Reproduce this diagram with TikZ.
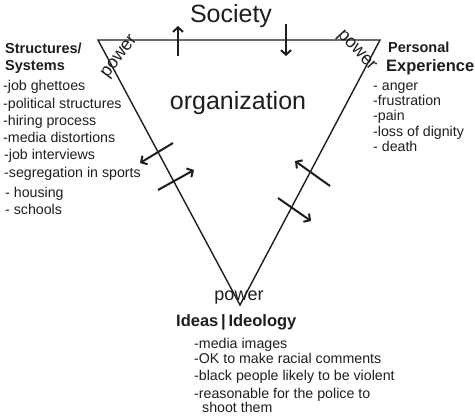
\documentclass[tikz,border=0pt]{standalone}
\usepackage{fontspec}
\setmainfont{Liberation Sans}
\usetikzlibrary{arrows.meta}
\definecolor{ink}{HTML}{1E1E1E}
\tikzset{
  edge/.style={draw=ink, line width=1.4pt},
  flow/.style={draw=ink, line width=2pt, -{Straight Barb[length=4.5pt,width=10pt,line width=2pt]}},
  big/.style={inner sep=0pt, text=ink, font=\fontsize{25}{28}\selectfont},
  pw/.style={inner sep=0pt, text=ink, font=\fontsize{18}{20}\selectfont},
  head/.style={inner sep=0pt, anchor=west, text=ink, font=\bfseries\fontsize{14.5}{16}\selectfont, text height=1.4ex, text depth=.25ex},
  item/.style={inner sep=0pt, anchor=west, text=ink, font=\fontsize{14.2}{15}\selectfont, text height=1.4ex, text depth=.25ex},
}
\begin{document}
\begin{tikzpicture}[x=1pt,y=-1pt]
\useasboundingbox (0,0) rectangle (475,416);
% triangle
\coordinate (tl) at (98,40);
\coordinate (tr) at (380,40);
\coordinate (bv) at (240,305);
\draw[edge, line join=miter] (tl) -- (tr) -- (bv) -- cycle;

% arrows
\coordinate (a1s) at (178,56); \coordinate (a1e) at (178,26);
\coordinate (a2s) at (286,24); \coordinate (a2e) at (286,56);
\coordinate (a3s) at (173,143); \coordinate (a3e) at (140,163);
\coordinate (a4s) at (158,190); \coordinate (a4e) at (194,170);
\coordinate (a5s) at (330,186); \coordinate (a5e) at (295,161);
\coordinate (a6s) at (278,198); \coordinate (a6e) at (311,221);
\draw[flow] (a1s) -- (a1e);
\draw[flow] (a2s) -- (a2e);
\draw[flow] (a3s) -- (a3e);
\draw[flow] (a4s) -- (a4e);
\draw[flow] (a5s) -- (a5e);
\draw[flow] (a6s) -- (a6e);

% big labels
\node[big] (soc) at (231,16) {Society};
\node[big] (org) at (238,103) {organization};

% power labels
\node[pw, rotate=53] (pw1) at (120,57) {power};
\node[pw, rotate=-47] (pw2) at (356,51) {power};
\node[pw] (pw3) at (239,298) {power};

% left
\node[head] (sh1) at (5,50) {Structures/};
\node[head] (sh2) at (5,67) {Systems};
\node[item] (l1) at (3,87) {-job ghettoes};
\node[item] (l2) at (3,105) {-political structures};
\node[item] (l3) at (3,122) {-hiring process};
\node[item] (l4) at (3,139) {-media distortions};
\node[item] (l5) at (4,156) {-job interviews};
\node[item] (l6) at (4,174) {-segregation in sports};
\node[item] (l7) at (5,194) {- housing};
\node[item] (l8) at (5,211) {- schools};

% right
\node[head] (ph1) at (388,49) {Personal};
\node[head, font=\bfseries\fontsize{16.5}{18}\selectfont] (ph2) at (386,68) {Experience};
\node[item] (r1) at (373,87) {- anger};
\node[item] (r2) at (373,102) {-frustration};
\node[item] (r3) at (373,117) {-pain};
\node[item] (r4) at (373,133) {-loss of dignity};
\node[item] (r5) at (373,148) {- death};

% bottom
\node[head, font=\bfseries\fontsize{16.5}{18}\selectfont] (ih) at (176,323) {Ideas\,|\,Ideology};
\node[item] (b1) at (194,345) {-media images};
\node[item] (b2) at (194,360) {-OK to make racial comments};
\node[item] (b3) at (194,377) {-black people likely to be violent};
\node[item] (b4) at (194,395) {-reasonable for the police to};
\node[item] (b5) at (202,409) {shoot them};
\end{tikzpicture}
\end{document}
